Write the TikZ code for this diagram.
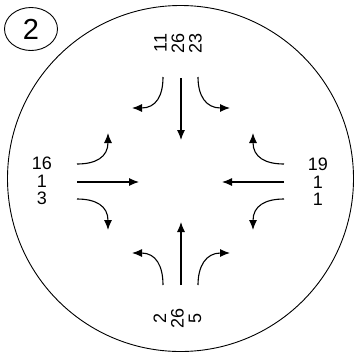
\documentclass[tikz,border=0pt]{standalone}
\usepackage{fontspec}
\setmainfont{Liberation Sans}
\usetikzlibrary{arrows.meta,shapes.geometric}
\begin{document}
\begin{tikzpicture}[x=1pt,y=-1pt,
  flow/.style={line width=1.1pt, -{Latex[length=10pt,width=8pt]}},
  lbl/.style={font=\fontsize{18}{17.5}\selectfont, align=center, inner sep=0pt},
  vlbl/.style={lbl, rotate=90},
]
\useasboundingbox (0,0) rectangle (354,354);
\node[draw, line width=0.9pt, circle, minimum size=346pt, inner sep=0pt] (ring) at (180.5,178.5) {};
\node[draw, line width=0.9pt, ellipse, minimum width=53pt, minimum height=43pt, inner sep=0pt,
      font=\fontsize{29}{30}\selectfont] (num) at (31,29) {2};

% labels
\node[vlbl] (ntxt) at (178,43) {11\\26\\23};
\node[vlbl] (stxt) at (177.5,318) {2\\26\\5};
\node[lbl] (wtxt) at (42,181) {16\\1\\3};
\node[lbl] (etxt) at (318,182) {19\\1\\1};

% coordinates
\coordinate (wS) at (77,182);  \coordinate (wE) at (139,182);
\coordinate (wuS) at (77,164); \coordinate (wuE) at (108,133);
\coordinate (wlS) at (77,199); \coordinate (wlE) at (108,230);
\coordinate (eS) at (284,182); \coordinate (eE) at (222,182);
\coordinate (euS) at (284,164); \coordinate (euE) at (253,133);
\coordinate (elS) at (284,199); \coordinate (elE) at (253,230);
\coordinate (nS) at (181,78);  \coordinate (nE) at (181,140);
\coordinate (nlS) at (163,77); \coordinate (nlE) at (132,108);
\coordinate (nrS) at (198,77); \coordinate (nrE) at (230,108);
\coordinate (sS) at (181,285); \coordinate (sE) at (181,222);
\coordinate (slS) at (163,285); \coordinate (slE) at (132,253);
\coordinate (srS) at (198,285); \coordinate (srE) at (230,253);

% through movements
\draw[flow] (wS) -- (wE);
\draw[flow] (eS) -- (eE);
\draw[flow] (nS) -- (nE);
\draw[flow] (sS) -- (sE);

% turning movements
\draw[flow] (wuS) .. controls (96,164) and (108,157) .. (wuE);
\draw[flow] (wlS) .. controls (96,199) and (108,206) .. (wlE);
\draw[flow] (euS) .. controls (265,164) and (253,157) .. (euE);
\draw[flow] (elS) .. controls (265,199) and (253,206) .. (elE);
\draw[flow] (nlS) .. controls (163,96) and (156,108) .. (nlE);
\draw[flow] (nrS) .. controls (198,96) and (206,108) .. (nrE);
\draw[flow] (slS) .. controls (163,266) and (156,253) .. (slE);
\draw[flow] (srS) .. controls (198,266) and (206,253) .. (srE);
\end{tikzpicture}
\end{document}
